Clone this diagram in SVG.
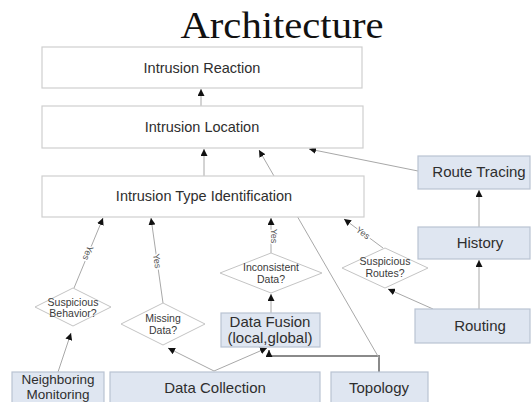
<svg xmlns="http://www.w3.org/2000/svg" width="531" height="402" viewBox="0 0 531 402">
<style>
.box{fill:#fff;stroke:#cfcfcf;stroke-width:1.2}
.blue{fill:#dfe6f1;stroke:#b9c3d3;stroke-width:1.2}
.dia{fill:#fff;stroke:#c4c4c4;stroke-width:1}
.t{font-family:"Liberation Sans",Arial,sans-serif;fill:#2e2e2e;text-anchor:middle}
.big{font-size:14.5px}
.mid{font-size:15px}
.nm{font-size:13.5px}
.sm{font-size:10.5px;fill:#3a3a3a}
.yes{font-family:"Liberation Sans",Arial,sans-serif;font-size:9px;fill:#555;text-anchor:middle;stroke:#fff;stroke-width:3;paint-order:stroke}
.c{fill:none;stroke:#a8a8a8;stroke-width:1}
.thick{fill:none;stroke:#8a8a8a;stroke-width:2}
</style>
<defs>
<marker id="ah" viewBox="0 0 10 10" refX="10" refY="5" markerWidth="7" markerHeight="7" markerUnits="userSpaceOnUse" orient="auto">
<path d="M0,0 L10,5 L0,10 z" fill="#111"/>
</marker>
</defs>
<text x="282" y="38" font-family="'Liberation Serif','Times New Roman',serif" font-size="38" fill="#111" text-anchor="middle" textLength="203" lengthAdjust="spacingAndGlyphs">Architecture</text>

<g id="connectors">
<line class="c" x1="201" y1="106" x2="201" y2="89" marker-end="url(#ah)"/>
<line class="c" x1="204" y1="176" x2="204" y2="149" marker-end="url(#ah)"/>
<line class="c" x1="418" y1="171" x2="309" y2="149" marker-end="url(#ah)"/>
<line class="c" x1="479" y1="227" x2="479" y2="190" marker-end="url(#ah)"/>
<line class="c" x1="479" y1="309" x2="479" y2="260" marker-end="url(#ah)"/>
<line class="c" x1="433" y1="309" x2="388" y2="289" marker-end="url(#ah)"/>
<line class="c" x1="383" y1="248" x2="344" y2="219" marker-end="url(#ah)"/>
<line class="c" x1="271" y1="253" x2="271" y2="218" marker-end="url(#ah)"/>
<line class="c" x1="271" y1="313" x2="271" y2="294" marker-end="url(#ah)"/>
<line class="c" x1="163" y1="303" x2="151" y2="218" marker-end="url(#ah)"/>
<line class="c" x1="74" y1="288" x2="103" y2="218" marker-end="url(#ah)"/>
<line class="c" x1="58" y1="372" x2="71" y2="333" marker-end="url(#ah)"/>
<line class="c" x1="214" y1="371" x2="168" y2="348" marker-end="url(#ah)"/>
<line class="c" x1="214" y1="371" x2="267" y2="348" marker-end="url(#ah)"/>
<polyline class="thick" points="379,372 379,356 269,356 269,350" marker-end="url(#ah)"/>
<line class="c" x1="379" y1="358" x2="259" y2="150" marker-end="url(#ah)"/>
<text class="yes" transform="translate(88,253) rotate(113)" y="3">Yes</text>
<text class="yes" transform="translate(157,261) rotate(82)" y="3">Yes</text>
<text class="yes" transform="translate(274,236) rotate(90)" y="3">Yes</text>
<text class="yes" transform="translate(363,233) rotate(37)" y="3">Yes</text>
</g>

<g id="reaction"><rect class="box" x="42" y="47" width="320" height="41"/><text class="t big" x="202" y="73">Intrusion Reaction</text></g>
<g id="location"><rect class="box" x="42" y="106" width="321" height="42"/><text class="t big" x="202" y="132">Intrusion Location</text></g>
<g id="typeid"><rect class="box" x="42" y="176" width="322" height="41"/><text class="t big" x="204" y="201">Intrusion Type Identification</text></g>
<g id="routetracing"><rect class="blue" x="418" y="156" width="112" height="33"/><text class="t mid" x="479" y="177">Route Tracing</text></g>
<g id="history"><rect class="blue" x="418" y="227" width="112" height="32"/><text class="t mid" x="480" y="248">History</text></g>
<g id="routing"><rect class="blue" x="415" y="309" width="115" height="34"/><text class="t mid" x="480" y="331">Routing</text></g>
<g id="datafusion"><rect class="blue" x="221" y="313" width="99" height="34"/><text class="t mid" x="270" y="327">Data Fusion</text><text class="t mid" x="270" y="343">(local,global)</text></g>
<g id="neighboring"><rect class="blue" x="12" y="372" width="92" height="40"/><text class="t nm" x="58" y="384">Neighboring</text><text class="t nm" x="58" y="399">Monitoring</text></g>
<g id="datacollection"><rect class="blue" x="110" y="372" width="210" height="40"/><text class="t mid" x="215" y="393">Data Collection</text></g>
<g id="topology"><rect class="blue" x="331" y="372" width="97" height="40"/><text class="t mid" x="379" y="393">Topology</text></g>

<g id="suspbehavior"><polygon class="dia" points="35,307 73,288 111,307 73,326"/><text class="t sm" x="73" y="306">Suspicious</text><text class="t sm" x="73" y="317">Behavior?</text></g>
<g id="missing"><polygon class="dia" points="121,324 163,303 205,324 163,345"/><text class="t sm" x="163" y="322">Missing</text><text class="t sm" x="163" y="334">Data?</text></g>
<g id="inconsistent"><polygon class="dia" points="220,273 271,253 322,273 271,293"/><text class="t sm" x="271" y="271">Inconsistent</text><text class="t sm" x="271" y="283">Data?</text></g>
<g id="susproutes"><polygon class="dia" points="342,268 385,248 428,268 385,288"/><text class="t sm" x="385" y="265">Suspicious</text><text class="t sm" x="385" y="277">Routes?</text></g>
</svg>
